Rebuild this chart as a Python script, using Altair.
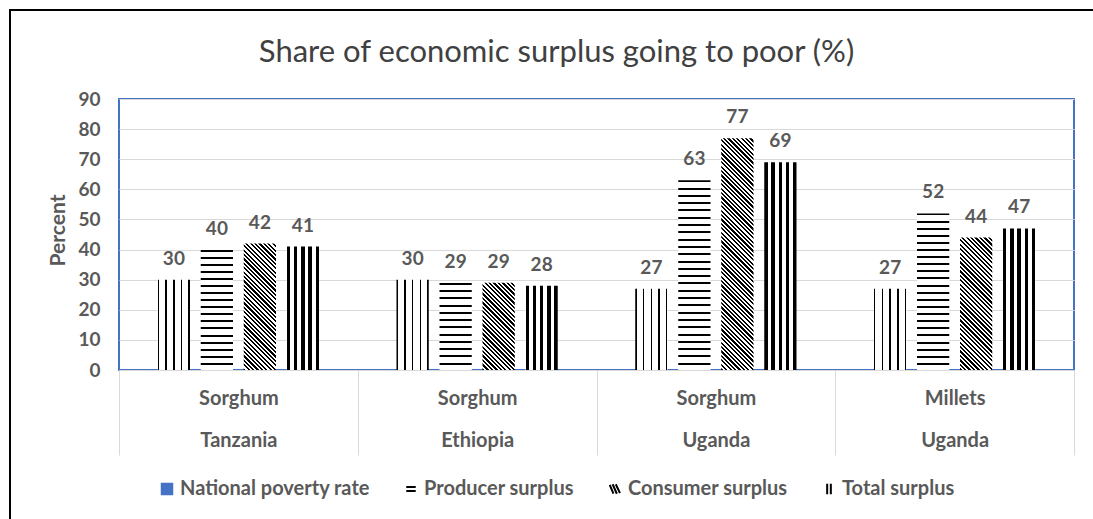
import altair as alt
import pandas as pd

# ---- data -------------------------------------------------------------
crops = ["Sorghum", "Sorghum", "Sorghum", "Millets"]
countries = ["Tanzania", "Ethiopia", "Uganda", "Uganda"]
series = ["National poverty rate", "Producer surplus", "Consumer surplus", "Total surplus"]
national_poverty = [30, 30, 27, 27]
producer_surplus = [40, 29, 63, 52]
consumer_surplus = [42, 29, 77, 44]
total_surplus = [41, 28, 69, 47]
y_ticks = [0, 10, 20, 30, 40, 50, 60, 70, 80, 90]

# ---- layout -----------------------------------------------------------
PLOT_W, PLOT_H = 955, 271
Y_MAX = 90
PAD = {"left": 119, "top": 99, "right": 19, "bottom": 149}
GREY = "#595959"
FONT = "Lato"

groups = [f"{c}|{k}" for c, k in zip(crops, countries)]
values_by_series = [national_poverty, producer_surplus, consumer_surplus, total_surplus]

rows = []
for s, vals in zip(series, values_by_series):
    for g, v in zip(groups, vals):
        rows.append({"group": g, "series": s, "value": v, "bar": len(rows)})
df = pd.DataFrame(rows)

# band geometry used to size the hatch patterns
band_step = PLOT_W / len(groups)
inner_pad, outer_pad = 0.25, 0.901
offset_step = band_step / (len(series) - inner_pad + 2 * outer_pad)
BAR_W = offset_step * (1 - inner_pad)
PX_PER_UNIT = PLOT_H / Y_MAX


def stops_from(intervals, length):
    """Black bands on white, given as (start, end) pixel intervals."""
    stops = [{"offset": 0, "color": "white"}]
    for a, b in intervals:
        a = round(min(max(a / length, 0), 1), 5)
        b = round(min(max(b / length, 0), 1), 5)
        stops += [
            {"offset": a, "color": "white"},
            {"offset": a, "color": "black"},
            {"offset": b, "color": "black"},
            {"offset": b, "color": "white"},
        ]
    stops.append({"offset": 1, "color": "white"})
    return stops


def vertical_lines(count, thickness):
    period = (BAR_W - thickness) / (count - 1)
    iv = [(k * period, k * period + thickness) for k in range(count)]
    return {"gradient": "linear", "x1": 0, "y1": 0, "x2": 1, "y2": 0,
            "stops": stops_from(iv, BAR_W)}


def horizontal_lines(value, period=7.2, thickness=2.0):
    h = value * PX_PER_UNIT
    n = max(1, round(h / period))
    p = h / n
    iv = [(k * p, k * p + thickness) for k in range(n)]
    return {"gradient": "linear", "x1": 0, "y1": 0, "x2": 0, "y2": 1,
            "stops": stops_from(iv, h)}


def diagonal_lines(value, period=4.4):
    w, h = BAR_W, value * PX_PER_UNIT
    s = (w * w + h * h) / (w + h)
    a, b = w / s, h / s
    span = w + h
    n = max(1, round(span / period))
    p = span / n
    iv = [(k * p, k * p + p / 2) for k in range(n)]
    return {"gradient": "linear", "x1": 0, "y1": 1, "x2": round(a, 5), "y2": round(1 - b, 5),
            "stops": stops_from(iv, span)}


thin_vertical = vertical_lines(5, 1.5)
thick_vertical = vertical_lines(5, 3.4)

conditions = []
for r in rows:
    if r["series"] == "National poverty rate":
        fill = thin_vertical
    elif r["series"] == "Producer surplus":
        fill = horizontal_lines(r["value"])
    elif r["series"] == "Consumer surplus":
        fill = diagonal_lines(r["value"])
    else:
        fill = thick_vertical
    conditions.append({"test": f"datum.bar === {r['bar']}", "value": fill})

x_enc = alt.X(
    "group:N",
    sort=groups,
    scale=alt.Scale(paddingInner=0, paddingOuter=0),
    axis=alt.Axis(
        title=None,
        labelAngle=0,
        labelExpr="split(datum.label, '|')",
        labelFont=FONT,
        labelFontWeight="bold",
        labelFontSize=20,
        labelColor=GREY,
        labelLineHeight=42,
        labelPadding=-67,
        tickBand="extent",
        tickSize=85,
        tickColor="#d9d9d9",
        tickWidth=1,
        domainColor="#d9d9d9",
        domainWidth=1,
        grid=False,
        zindex=1,
    ),
)
xoff_enc = alt.XOffset(
    "series:N", sort=series,
    scale=alt.Scale(paddingInner=inner_pad, paddingOuter=outer_pad),
)
y_enc = alt.Y(
    "value:Q",
    scale=alt.Scale(domain=[0, Y_MAX], nice=False),
    axis=alt.Axis(
        values=y_ticks,
        labelOverlap=False,
        title="Percent",
        titleFont=FONT,
        titleFontWeight="bold",
        titleFontSize=21,
        titleColor=GREY,
        titleX=-61,
        titleY=131,
        titleAngle=-90,
        titleAlign="center",
        titleBaseline="middle",
        labelFont=FONT,
        labelFontWeight="bold",
        labelFontSize=19,
        labelColor=GREY,
        labelPadding=19,
        ticks=False,
        domain=False,
        grid=True,
        gridColor="#d9d9d9",
        gridWidth=1,
    ),
)

base = alt.Chart(df)

bars = base.mark_bar(strokeWidth=0).encode(
    x=x_enc,
    xOffset=xoff_enc,
    y=y_enc,
    fill=alt.FillValue("white", condition=conditions),
)

labels = base.mark_text(
    dy=-15, baseline="alphabetic", font=FONT, fontWeight="bold", fontSize=19, color=GREY
).encode(
    x=x_enc,
    xOffset=xoff_enc,
    y=y_enc,
    text="value:Q",
)

# legend built from the series domain (no points drawn)
legend = alt.Legend(
    orient="none",
    legendX=38,
    legendY=380,
    direction="horizontal",
    columns=4,
    title=None,
    labelFont=FONT,
    labelFontWeight="bold",
    labelFontSize=20,
    labelColor=GREY,
    labelLimit=400,
    labelOffset=3,
    symbolSize=110,
    symbolStrokeWidth=2,
    symbolOpacity=1,
    columnPadding=31,
)
shapes = [
    "square",
    "M-0.9,-0.4H0.9M-0.9,0.4H0.9",
    "M-1,-0.8L-0.3,0.9M-0.45,-0.9L0.35,0.9M0.15,-0.9L0.95,0.8",
    "M-0.35,-1V1M0.35,-1V1",
]
legend_layer = base.mark_point(filled=True).encode(
    fill=alt.Fill("series:N", scale=alt.Scale(domain=series, range=["#4472C4", "transparent", "transparent", "transparent"]), legend=legend),
    stroke=alt.Stroke("series:N", scale=alt.Scale(domain=series, range=["#4472C4", "black", "black", "black"]), legend=legend),
    shape=alt.Shape("series:N", scale=alt.Scale(domain=series, range=shapes), legend=legend),
).transform_filter("false")

# outer frame lines
frame = alt.Chart(alt.Data(values=[{}]))
frame_left = frame.mark_rule(color="black", strokeWidth=2).encode(
    x=alt.value(-109), y=alt.value(-90), y2=alt.value(430)
)
frame_top = frame.mark_rule(color="black", strokeWidth=2).encode(
    x=alt.value(-110), x2=alt.value(980), y=alt.value(-89)
)

chart = alt.layer(bars, labels, legend_layer, frame_left, frame_top).properties(
    width=PLOT_W,
    height=PLOT_H,
    autosize=alt.AutoSizeParams(type="none"),
    padding=PAD,
    title=alt.TitleParams(
        "Share of economic surplus going to poor (%)",
        font=FONT,
        fontSize=31,
        fontWeight="normal",
        color="#404040",
        anchor="middle",
        frame="group",
        baseline="alphabetic",
        offset=0,
        dx=-40,
        dy=85,
    ),
).configure_view(stroke="#4472C4", strokeWidth=2)

chart.save("out.html", embed_options={"renderer": "svg", "actions": False})
